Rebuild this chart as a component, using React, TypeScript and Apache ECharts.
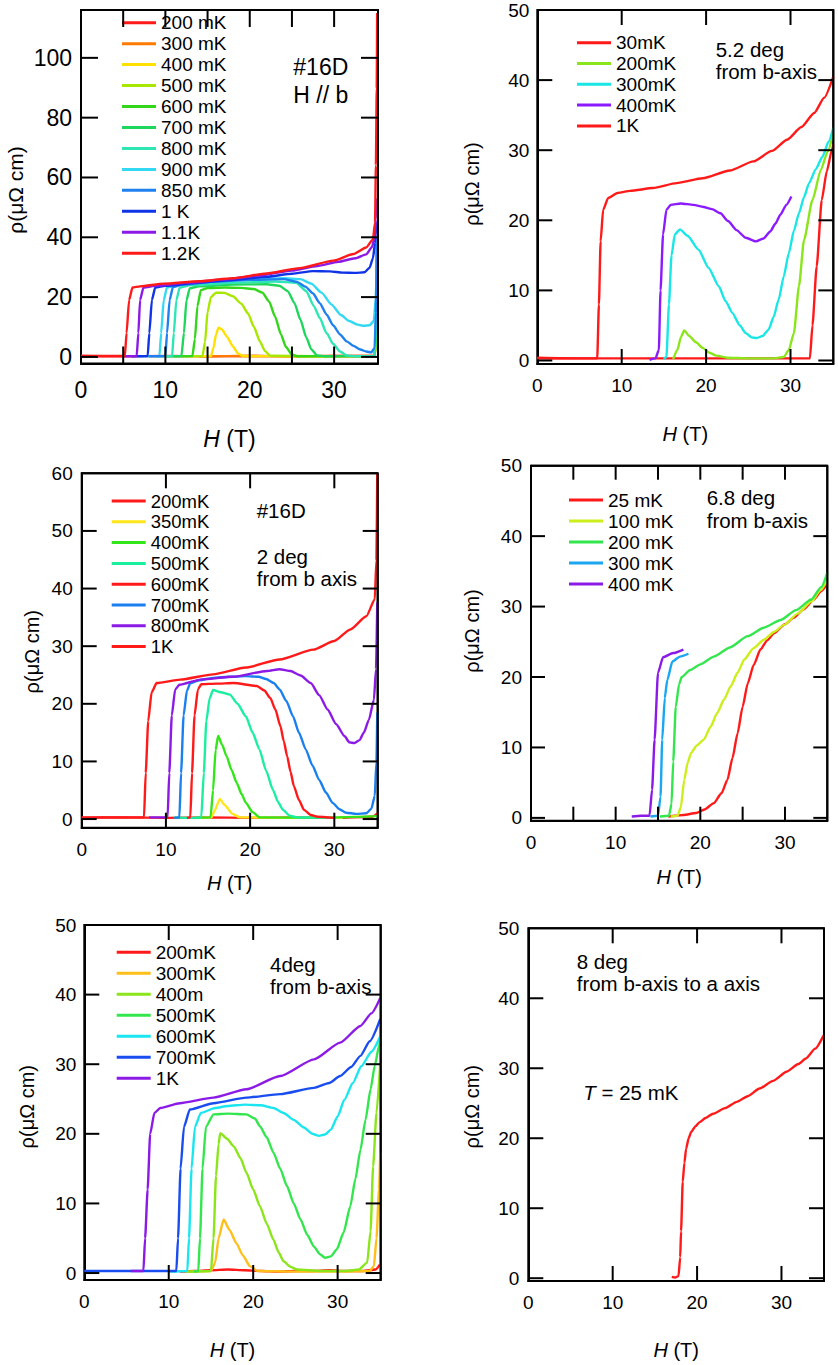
import React, { useEffect, useRef } from "react";
import * as echarts from "echarts";

type Pt = [number, number];

const FONT = '"Liberation Sans", Arial, Helvetica, sans-serif';
const INK = "#000000";

// ---------- Panel 1: #16D, H // b ----------
const p1Names = ["200 mK", "300 mK", "400 mK", "500 mK", "600 mK", "700 mK", "800 mK", "900 mK", "850 mK", "1 K", "1.1K", "1.2K"];
const p1_200mK: Pt[] = [[0, 0.3], [5, 0.2], [10, 0.3], [15, 0.2], [20, 0.3], [25, 0.2], [30, 0.3], [34.7, 0.3], [34.9, 2], [35.0, 8], [35.05, 20]];
const p1_300mK: Pt[] = [[14, 0.2], [20, 0.3], [25, 0.2], [30, 0.3], [34.7, 0.3], [34.95, 3], [35.05, 12]];
const p1_400mK: Pt[] = [[13, 0.2], [15.4, 0.3], [15.7, 3], [16.0, 7.5], [16.3, 9.8], [16.7, 9.2], [17.3, 6.8], [18.0, 3.5], [18.6, 1.2], [19.2, 0.3], [25, 0.2], [30, 0.2], [34.8, 0.3], [35.0, 5]];
const p1_500mK: Pt[] = [[12, 0.2], [14.4, 0.3], [14.7, 5], [15.0, 15], [15.4, 20], [16, 21.5], [17, 21.4], [18, 20.3], [19, 17.8], [19.8, 14.5], [20.5, 10], [21.2, 5.2], [21.8, 2], [22.4, 0.4], [28, 0.2], [34.8, 0.3], [35.0, 6]];
const p1_600mK: Pt[] = [[11, 0.2], [13.2, 0.3], [13.5, 6], [13.8, 17], [14.2, 22.3], [15, 23], [17, 23.2], [19, 23.1], [20.5, 22.7], [21.5, 21.5], [22.3, 18.5], [23, 13.5], [23.7, 7.5], [24.3, 3.3], [25, 0.8], [25.6, 0.2], [34.8, 0.3], [35.0, 8]];
const p1_700mK: Pt[] = [[10, 0.2], [11.9, 0.3], [12.2, 8], [12.5, 19], [12.9, 23], [14, 23.6], [18, 24.2], [22, 24.3], [23.5, 23.8], [24.5, 22], [25.3, 18], [26, 12.5], [26.7, 6.5], [27.3, 2.5], [28, 0.5], [29, 0.2], [34.8, 0.3], [35.0, 10]];
const p1_800mK: Pt[] = [[9, 0.2], [10.8, 0.3], [11.0, 8], [11.3, 19], [11.7, 23.2], [13, 24], [18, 24.8], [23, 25.2], [25.5, 24.8], [26.7, 22], [27.6, 17], [28.3, 13], [29.1, 8], [29.9, 4.3], [30.7, 1.8], [31.5, 0.5], [32.5, 0.2], [34.8, 0.3], [35.0, 15]];
const p1_900mK: Pt[] = [[7, 0.2], [9.3, 0.3], [9.5, 8], [9.8, 19], [10.2, 23.3], [12, 24.3], [16, 25.2], [20, 25.8], [24, 26.3], [26, 26], [27.3, 24.5], [28.5, 21.5], [29.7, 17.5], [30.8, 14], [31.8, 12], [32.8, 10.8], [33.5, 10.4], [34.2, 10.6], [34.7, 12], [34.95, 20], [35.05, 35]];
const p1_850mK: Pt[] = [[8, 0.2], [10.0, 0.3], [10.2, 8], [10.5, 19], [10.9, 23.4], [12, 24.2], [16, 25.2], [20, 25.8], [24, 26], [25.6, 25.1], [26.6, 23.5], [27.5, 21.2], [28.3, 18], [29.1, 14.2], [29.9, 10.5], [30.7, 7.5], [31.5, 5.2], [32.3, 3.7], [33.1, 2.5], [33.8, 1.8], [34.4, 1.5], [34.8, 3], [34.95, 15], [35.05, 40]];
const p1_1K: Pt[] = [[6, 0.2], [7.9, 0.3], [8.1, 8], [8.4, 19], [8.8, 23.2], [10, 23.8], [14, 24.8], [18, 25.7], [22, 26.8], [25, 27.8], [27.5, 28.7], [29.5, 28.6], [31, 28.2], [32.5, 28.1], [33.6, 28.3], [34.2, 29.8], [34.6, 33], [34.85, 38], [35.0, 45]];
const p1_1p1K: Pt[] = [[5, 0.2], [6.6, 0.3], [6.8, 8], [7.0, 19], [7.4, 23.2], [9, 23.9], [13, 24.9], [17, 25.9], [21, 27.2], [25, 28.9], [28, 30.4], [30.5, 31.8], [32.5, 33], [33.8, 34.3], [34.5, 36.8], [34.8, 40], [34.95, 46], [35.05, 53]];
const p1_1p2K: Pt[] = [[0, 0.3], [5.2, 0.3], [5.4, 8], [5.7, 19], [6.1, 23.2], [7, 23.6], [9.8, 24.5], [14, 25.3], [18, 26.3], [22, 27.9], [25.9, 29.7], [29.9, 32.2], [32.3, 34.4], [33.8, 36.6], [34.6, 39.3], [34.85, 45], [34.95, 64], [35.05, 90], [35.1, 115]];
const p1Curves = [p1_200mK, p1_300mK, p1_400mK, p1_500mK, p1_600mK, p1_700mK, p1_800mK, p1_900mK, p1_850mK, p1_1K, p1_1p1K, p1_1p2K];
const p1Colors = ["#ff1a1a", "#ff7a00", "#ffe000", "#a8e800", "#33d61a", "#1fd65c", "#2ee6b3", "#33d9f2", "#1f80f0", "#0f33e6", "#8c1ae6", "#ff1a1a"];
const p1XTicks = [5, 10, 15, 20, 25, 30];
const p1YTicks = [0, 20, 40, 60, 80, 100];
const p1YLabelStep = 20;
const p1Notes = ["#16D", "H // b"];

// ---------- Panel 2: 5.2 deg from b-axis ----------
const p2Names = ["30mK", "200mK", "300mK", "400mK", "1K"];
const p2_30mK: Pt[] = [[0, 0.3], [5, 0.3], [10, 0.3], [15, 0.3], [20, 0.3], [25, 0.3], [30, 0.3], [32.3, 0.3], [32.6, 5], [33.1, 13.4], [33.7, 22.9], [34.3, 27], [34.9, 30], [35.07, 30.8]];
const p2_200mK: Pt[] = [[16.1, 0.2], [16.6, 1.5], [17.0, 3.3], [17.4, 4.3], [18.0, 3.5], [18.8, 2.6], [19.6, 1.8], [20.4, 1.1], [21.2, 0.7], [22.5, 0.4], [25, 0.3], [28, 0.3], [29.2, 0.5], [29.8, 1.5], [30.4, 3.9], [31.0, 10.6], [31.6, 17.2], [32.6, 22.9], [33.6, 27.2], [34.4, 29.8], [35.07, 32.4]];
const p2_300mK: Pt[] = [[15.0, 0.2], [15.3, 0.5], [15.6, 8], [15.9, 15], [16.3, 18], [16.9, 18.7], [17.8, 17.8], [19.1, 15.8], [20.3, 13.2], [21.5, 10.6], [22.3, 8.5], [23.1, 6.8], [24.0, 5], [24.7, 3.9], [25.4, 3.3], [26.0, 3.2], [26.7, 3.5], [27.4, 4.4], [28.0, 6.2], [28.6, 8.7], [29.2, 12], [29.8, 15.3], [30.4, 18.5], [31.0, 21], [31.6, 23.3], [32.2, 25.3], [33.0, 27.3], [33.8, 29.1], [34.5, 31.2], [35.07, 33.2]];
const p2_400mK: Pt[] = [[13.3, 0.1], [14.0, 0.3], [14.4, 1.5], [14.6, 10], [14.9, 18], [15.3, 21.5], [15.8, 22.2], [17, 22.4], [18.5, 22.2], [19.7, 21.9], [20.7, 21.6], [21.7, 21], [22.6, 19.9], [23.6, 18.6], [24.7, 17.5], [25.9, 17], [26.8, 17.4], [27.6, 18.4], [28.2, 19.5], [28.8, 20.8], [29.5, 22.2], [30.1, 23.4]];
const p2_1K: Pt[] = [[0, 0.4], [5, 0.3], [7.1, 0.3], [7.3, 8], [7.5, 17], [7.8, 21.5], [8.4, 23.2], [9.5, 23.9], [11.0, 24.2], [13.7, 24.6], [16.5, 25.3], [19.6, 26.0], [22.8, 27.1], [25.6, 28.4], [27.8, 29.9], [29.6, 31.5], [31.3, 33.3], [32.8, 35.3], [34.0, 37.5], [35.07, 40.5]];
const p2Curves = [p2_30mK, p2_200mK, p2_300mK, p2_400mK, p2_1K];
const p2Colors = ["#ff1a1a", "#8ae61a", "#1ae6e6", "#8c1aff", "#ff1a1a"];
const p2XTicks = [10, 20, 30];
const p2YTicks = [0, 10, 20, 30, 40];
const p2YLabelStep = 10;
const p2Notes = ["5.2 deg", "from b-axis"];

// ---------- Panel 3: #16D, 2 deg from b axis ----------
const p3Names = ["200mK", "350mK", "400mK", "500mK", "600mK", "700mK", "800mK", "1K"];
const p3_200mK: Pt[] = [[0, 0.2], [5, 0.3], [10, 0.2], [15, 0.3], [20, 0.2], [25, 0.3], [30, 0.2], [34.5, 0.4], [35.1, 1]];
const p3_350mK: Pt[] = [[14, 0.2], [15.4, 0.3], [15.8, 1.5], [16.4, 3.5], [17.0, 2.4], [17.9, 0.9], [18.8, 0.3], [25, 0.2], [31, 0.2]];
const p3_400mK: Pt[] = [[13.5, 0.2], [15.3, 0.3], [15.6, 5], [15.9, 12], [16.2, 14.4], [16.7, 12.8], [17.2, 10.9], [17.8, 8.5], [18.4, 6.3], [19.0, 4.3], [19.5, 2.8], [20.3, 1.2], [21.1, 0.3], [28, 0.2], [35.1, 0.5]];
const p3_500mK: Pt[] = [[11, 0.3], [13, 0.2], [14.2, 0.3], [14.5, 8], [14.8, 17], [15.2, 21], [15.6, 22.4], [16.5, 22], [17.6, 21.6], [18.5, 20], [19.5, 17.8], [20.3, 15], [21.1, 12.1], [21.9, 8.4], [22.7, 5.1], [23.3, 3], [23.9, 1.6], [24.7, 0.6], [25.5, 0.3], [30, 0.2]];
const p3_600mK: Pt[] = [[12.5, 0.2], [12.9, 0.3], [13.1, 8], [13.4, 18], [13.8, 22.5], [14.2, 23.4], [16, 23.5], [18, 23.6], [20.8, 23.1], [21.7, 22.3], [22.4, 21], [23.0, 19], [23.6, 16.1], [24.0, 13.5], [24.4, 10.9], [24.8, 8.2], [25.2, 5.7], [25.8, 3.3], [26.4, 1.6], [27.2, 0.7], [28, 0.4], [30, 0.2]];
const p3_700mK: Pt[] = [[11, 0.2], [11.6, 0.3], [11.8, 8], [12.1, 18], [12.5, 22.3], [12.9, 23.6], [14, 24.1], [15.6, 24.5], [17.5, 24.7], [19.5, 24.8], [21.0, 24.7], [21.9, 24.3], [22.8, 23.6], [23.5, 22.5], [24.3, 20.5], [25.1, 17.8], [25.8, 15], [26.6, 12.1], [27.4, 9.3], [28.2, 6.8], [29.0, 4.6], [29.8, 2.8], [30.6, 1.7], [31.4, 1.1], [32.6, 0.9], [33.8, 1.0], [34.4, 1.8], [34.8, 4], [35.0, 10], [35.1, 18.5]];
const p3_800mK: Pt[] = [[8.0, 0.3], [10.2, 0.3], [10.4, 8], [10.7, 18], [11.1, 22.5], [11.6, 23.3], [14.1, 24.2], [18.0, 24.7], [22.0, 25.7], [23.5, 26], [24.8, 25.7], [26.0, 24.9], [27.2, 23.6], [28.2, 21.5], [29.2, 19], [30.2, 16.5], [31.2, 14.4], [31.8, 13.3], [32.4, 13.2], [33.0, 13.7], [33.5, 15], [34.1, 17.2], [34.7, 20.7], [34.95, 26], [35.1, 37.6]];
const p3_1K: Pt[] = [[0, 0.3], [7.4, 0.3], [7.6, 8], [7.9, 17], [8.3, 22], [8.9, 23.6], [11.7, 24.2], [15.6, 25.1], [19.5, 26.3], [23.5, 27.7], [27.5, 29.4], [30.0, 30.9], [31.9, 32.9], [33.8, 35.2], [34.8, 38.1], [35.0, 45], [35.1, 60]];
const p3Curves = [p3_200mK, p3_350mK, p3_400mK, p3_500mK, p3_600mK, p3_700mK, p3_800mK, p3_1K];
const p3Colors = ["#ff1a1a", "#ffe61a", "#33e61a", "#1aefa0", "#ff1a1a", "#1a80f0", "#8c1ae6", "#ff1a1a"];
const p3XTicks = [10, 20, 30];
const p3YTicks = [0, 10, 20, 30, 40, 50];
const p3YLabelStep = 10;
const p3Notes = ["#16D", "2 deg", "from b axis"];

// ---------- Panel 4: 6.8 deg from b-axis ----------
const p4Names = ["25 mK", "100 mK", "200 mK", "300 mK", "400 mK"];
const p4_25mK: Pt[] = [[16.2, 0.2], [17, 0.3], [18, 0.4], [19.5, 0.7], [20.5, 1.2], [21.6, 2.1], [22.5, 3.5], [23.2, 5.4], [23.8, 8.5], [24.4, 12], [25.0, 15.8], [25.6, 19.1], [26.3, 21.7], [27.1, 23.9], [27.9, 25.2], [28.7, 26.2], [30, 27.5], [31.0, 28.4], [32.2, 29.6], [33.4, 31], [34.3, 32.2], [35, 33.3]];
const p4_100mK: Pt[] = [[16.5, 0.2], [17.3, 0.3], [17.7, 1.5], [18.1, 5.4], [18.5, 7.8], [18.9, 9.2], [19.6, 10.3], [20.4, 11.1], [21.2, 12.9], [22.0, 14.9], [22.8, 16.8], [23.6, 18.7], [24.4, 20.6], [25.2, 22.5], [26.3, 24.1], [27.5, 25.3], [28.7, 26.4], [29.9, 27.4], [31.5, 29], [33.1, 30.7], [34.2, 32.3], [35, 33.8]];
const p4_200mK: Pt[] = [[15.2, 0.2], [16.3, 0.3], [16.6, 2], [16.8, 8], [17.1, 15.8], [17.5, 19], [17.8, 20], [18.8, 21], [20, 21.8], [21.6, 22.9], [23.5, 24.2], [25.6, 25.8], [27.5, 27], [29.5, 28.1], [31.3, 29.5], [33.1, 31], [34.3, 32.8], [35, 34.8]];
const p4_300mK: Pt[] = [[14.1, 0.2], [15.0, 0.3], [15.3, 3], [15.5, 11.1], [15.8, 17], [16.1, 19.6], [16.7, 22.2], [17.6, 22.9], [18.6, 23.3]];
const p4_400mK: Pt[] = [[11.9, 0.2], [13, 0.3], [14.0, 0.3], [14.3, 4], [14.6, 11.1], [15.0, 20.6], [15.6, 22.8], [16.8, 23.4], [18.0, 23.9]];
const p4Curves = [p4_25mK, p4_100mK, p4_200mK, p4_300mK, p4_400mK];
const p4Colors = ["#ff1a1a", "#ccee1a", "#33e64d", "#1aa6f0", "#8c1ae6"];
const p4XTicks = [5, 10, 15, 20, 25, 30];
const p4YTicks = [0, 10, 20, 30, 40];
const p4YLabelStep = 10;
const p4Notes = ["6.8 deg", "from b-axis"];

// ---------- Panel 5: 4deg from b-axis ----------
const p5Names = ["200mK", "300mK", "400m", "500mK", "600mK", "700mK", "1K"];
const p5_200mK: Pt[] = [[11.3, 0.2], [13, 0.3], [15, 0.4], [17, 0.5], [19, 0.4], [21, 0.3], [23, 0.2], [25, 0.3], [27, 0.3], [29, 0.4], [31, 0.3], [33, 0.3], [34.5, 0.5], [35.0, 1.2]];
const p5_300mK: Pt[] = [[12, 0.2], [15.0, 0.3], [15.5, 1.5], [15.9, 5], [16.5, 7.7], [17.2, 6.2], [18.0, 4.3], [18.8, 2.5], [19.6, 1.0], [20.5, 0.3], [25, 0.2], [30, 0.2], [33.8, 0.3], [34.3, 1], [34.6, 5], [34.9, 12], [35.05, 17.3]];
const p5_400m: Pt[] = [[12, 0.2], [15.0, 0.3], [15.3, 5], [15.6, 14], [15.9, 18.5], [16.1, 20.1], [16.9, 19.3], [17.7, 18.2], [18.5, 16.5], [19.2, 14.4], [20.0, 12], [20.8, 9.6], [21.6, 7.1], [22.4, 4.8], [23.0, 3], [23.6, 1.7], [24.4, 0.9], [25.2, 0.5], [28, 0.3], [31, 0.3], [32.5, 0.5], [33.5, 1.5], [33.9, 6], [34.2, 15.3], [34.6, 23], [35.05, 30.2]];
const p5_500mK: Pt[] = [[13, 0.2], [13.5, 0.3], [13.7, 5], [14.0, 15], [14.4, 21], [15.3, 22.8], [17, 22.9], [19.2, 22.8], [20.2, 22.2], [20.8, 21.1], [21.6, 19.5], [22.4, 17.3], [23.2, 15], [24.0, 12.5], [24.8, 10], [25.6, 7.7], [26.4, 5.5], [27.2, 3.8], [27.9, 2.7], [28.5, 2.2], [29.2, 2.4], [29.9, 3.4], [30.7, 5.8], [31.5, 9.6], [32.1, 13.5], [32.7, 17.7], [33.3, 22], [33.9, 26.4], [34.4, 29.8], [34.9, 32.6], [35.05, 33.5]];
const p5_600mK: Pt[] = [[10, 0.2], [12.2, 0.3], [12.4, 5], [12.7, 15], [13.1, 21], [13.8, 23], [15.5, 23.7], [17.0, 24], [19, 24.2], [20.9, 24.1], [22.4, 23.7], [23.6, 23], [24.8, 22], [26.0, 20.9], [27.0, 20], [27.8, 19.7], [28.5, 19.9], [29.2, 20.6], [30.0, 22.5], [30.8, 24.9], [31.8, 27.3], [32.8, 29.7], [34, 31.8], [35.05, 34]];
const p5_700mK: Pt[] = [[0, 0.3], [3, 0.3], [6, 0.3], [9, 0.3], [10.9, 0.3], [11.1, 5], [11.4, 15], [11.8, 21], [12.5, 23.5], [15.3, 24.4], [19.2, 25.2], [23.2, 25.7], [27.2, 26.6], [29, 27.3], [30.3, 28.3], [31.6, 29.6], [32.7, 31.2], [33.8, 33.3], [35.05, 36.5]];
const p5_1K: Pt[] = [[5.5, 0.3], [7.0, 0.3], [7.2, 5], [7.5, 12], [7.8, 20], [8.3, 23], [9.0, 23.7], [11.3, 24.4], [15.3, 25.2], [19.2, 26.4], [23.2, 28.3], [27.2, 30.7], [30.3, 33.1], [32.7, 35.5], [34, 37.3], [35.05, 39.5]];
const p5Curves = [p5_200mK, p5_300mK, p5_400m, p5_500mK, p5_600mK, p5_700mK, p5_1K];
const p5Colors = ["#ff1a1a", "#ffbf1a", "#8ae61a", "#33e64d", "#1ae6f0", "#1a4df0", "#8c1ae6"];
const p5XTicks = [10, 20, 30];
const p5YTicks = [0, 10, 20, 30, 40];
const p5YLabelStep = 10;
const p5Notes = ["4deg", "from b-axis"];

// ---------- Panel 6: 8 deg from b-axis to a axis ----------
const p6Names = ["25 mK"];
const p6_25mK: Pt[] = [[17.0, 0.2], [17.4, 0.1], [17.8, 0.3], [18.0, 3], [18.1, 6.7], [18.3, 13.8], [18.5, 16.5], [18.7, 18.5], [19.0, 20], [19.3, 20.9], [19.8, 21.7], [20.3, 22.3], [21.0, 22.9], [21.9, 23.5], [23.3, 24.3], [24.7, 25.2], [26, 26], [27.4, 27.1], [29, 28.2], [30.6, 29.5], [32, 30.6], [32.9, 31.4], [34, 32.8], [35, 34.7]];
const p6Curves = [p6_25mK];
const p6Colors = ["#ff1a1a"];
const p6XTicks = [10, 20, 30];
const p6YTicks = [0, 10, 20, 30, 40];
const p6YLabelStep = 10;
const p6Notes = ["8 deg", "from b-axis to a axis", "{i|T} = 25 mK"];

// field axis is labelled every 10 T
const X_LABEL_STEP = 10;

// ---------- layout ----------
interface Note { text: string; x: number; y: number }
interface PanelSpec {
  box: [number, number];
  plot: [number, number, number, number];
  xMax: number; yMin: number; yMax: number;
  xTicks: number[]; yTicks: number[]; yLabelStep: number;
  names: string[]; colors: string[]; curves: Pt[][];
  tickFont: number; nameFont: number; legendFont: number; noteFont: number; yNameFont: number;
  tickLen: number; marginX: number; marginY: number; xNameGap: number;
  legend: [number, number] | null; legendRow: number;
  yName: [number, number];
  notes: Note[];
}

const BOX_W = 419;
const BOX_H = 455;

const panels: PanelSpec[] = [
  {
    box: [0, 0], plot: [81, 10, 378, 370], xMax: 35.2, yMin: -2.2, yMax: 116,
    xTicks: p1XTicks, yTicks: p1YTicks, yLabelStep: p1YLabelStep,
    names: p1Names, colors: p1Colors, curves: p1Curves,
    tickFont: 23, nameFont: 23, legendFont: 19, noteFont: 23, yNameFont: 21,
    tickLen: 17, marginX: 15, marginY: 9, xNameGap: 63.5,
    legend: [122, 12.2], legendRow: 20.96, yName: [15, 190],
    notes: [{ text: p1Notes[0], x: 293.3, y: 67 }, { text: p1Notes[1], x: 293.3, y: 95 }],
  },
  {
    box: [419, 0], plot: [537.3, 10, 833.3, 364], xMax: 35.07, yMin: -0.5, yMax: 50,
    xTicks: p2XTicks, yTicks: p2YTicks, yLabelStep: p2YLabelStep,
    names: p2Names, colors: p2Colors, curves: p2Curves,
    tickFont: 19, nameFont: 20, legendFont: 19, noteFont: 20.5, yNameFont: 20,
    tickLen: 15, marginX: 11.5, marginY: 8, xNameGap: 60,
    legend: [577, 32.3], legendRow: 20.8, yName: [471.7, 184],
    notes: [{ text: p2Notes[0], x: 715.7, y: 49 }, { text: p2Notes[1], x: 715.7, y: 71 }],
  },
  {
    box: [0, 455], plot: [81.7, 473.3, 377.7, 827.7], xMax: 35.15, yMin: -1.5, yMax: 60,
    xTicks: p3XTicks, yTicks: p3YTicks, yLabelStep: p3YLabelStep,
    names: p3Names, colors: p3Colors, curves: p3Curves,
    tickFont: 19, nameFont: 20, legendFont: 18.5, noteFont: 20.5, yNameFont: 20,
    tickLen: 15, marginX: 12, marginY: 9, xNameGap: 45.6,
    legend: [111.7, 490.6], legendRow: 20.8, yName: [31.7, 651.7],
    notes: [{ text: p3Notes[0], x: 256.7, y: 510 }, { text: p3Notes[1], x: 256.7, y: 556.7 }, { text: p3Notes[2], x: 256.7, y: 578.3 }],
  },
  {
    box: [419, 455], plot: [531, 465.7, 827.3, 820.7], xMax: 35, yMin: -0.4, yMax: 50,
    xTicks: p4XTicks, yTicks: p4YTicks, yLabelStep: p4YLabelStep,
    names: p4Names, colors: p4Colors, curves: p4Curves,
    tickFont: 19, nameFont: 20, legendFont: 19, noteFont: 20.5, yNameFont: 20,
    tickLen: 14, marginX: 12.5, marginY: 9, xNameGap: 46,
    legend: [569, 489.5], legendRow: 21, yName: [471.7, 631],
    notes: [{ text: p4Notes[0], x: 706.7, y: 497.7 }, { text: p4Notes[1], x: 706.7, y: 520 }],
  },
  {
    box: [0, 910], plot: [84.3, 925, 380.7, 1280], xMax: 35.1, yMin: -1, yMax: 50,
    xTicks: p5XTicks, yTicks: p5YTicks, yLabelStep: p5YLabelStep,
    names: p5Names, colors: p5Colors, curves: p5Curves,
    tickFont: 19, nameFont: 20, legendFont: 19, noteFont: 20.5, yNameFont: 20,
    tickLen: 15, marginX: 12, marginY: 8, xNameGap: 60,
    legend: [116.7, 941.8], legendRow: 21, yName: [26.7, 1106.7],
    notes: [{ text: p5Notes[0], x: 270, y: 964.3 }, { text: p5Notes[1], x: 270, y: 986.7 }],
  },
  {
    box: [419, 910], plot: [528.3, 928.3, 824, 1282.7], xMax: 35.04, yMin: -0.4, yMax: 50,
    xTicks: p6XTicks, yTicks: p6YTicks, yLabelStep: p6YLabelStep,
    names: p6Names, colors: p6Colors, curves: p6Curves,
    tickFont: 19, nameFont: 20, legendFont: 19, noteFont: 20.5, yNameFont: 20,
    tickLen: 15, marginX: 12, marginY: 9, xNameGap: 59,
    legend: null, legendRow: 21, yName: [471.7, 1106.7],
    notes: [{ text: p6Notes[0], x: 576.7, y: 961.7 }, { text: p6Notes[1], x: 576.7, y: 983.3 }, { text: p6Notes[2], x: 583.3, y: 1092.7 }],
  },
];

const onStep = (v: number, step: number) => {
  const r = v / step;
  return v >= 0 && Math.abs(r - Math.round(r)) < 1e-6;
};

function textGraphics(p: PanelSpec) {
  const [bx, by] = p.box;
  return [
    {
      type: "text",
      x: p.yName[0] - bx,
      y: p.yName[1] - by,
      rotation: Math.PI / 2,
      silent: true,
      style: { text: "ρ(μΩ cm)", fontSize: p.yNameFont, fontFamily: FONT, fill: "#000", align: "center", verticalAlign: "middle" },
    },
    ...p.notes.map((n) => ({
      type: "text",
      x: n.x - bx,
      y: n.y - by,
      silent: true,
      style: {
        text: n.text,
        fontSize: p.noteFont,
        fontFamily: FONT,
        fill: "#000",
        align: "left",
        verticalAlign: "middle",
        rich: { i: { fontStyle: "italic", fontSize: p.noteFont, fontFamily: FONT, fill: "#000" } },
      },
    })),
  ];
}

// Inward tick marks on all four sides as small filled bars placed at the
// tick values (scatter symbols sized in pixels, shifted into the plot).
function tickSeries(p: PanelSpec) {
  const L = p.tickLen;
  const items: any[] = [];
  p.xTicks.forEach((v) => {
    items.push({ value: [v, p.yMin], symbolSize: [2, L], symbolOffset: [0, -L / 2] });
    items.push({ value: [v, p.yMax], symbolSize: [2, L], symbolOffset: [0, L / 2] });
  });
  p.yTicks.forEach((v) => {
    items.push({ value: [0, v], symbolSize: [L, 2], symbolOffset: [L / 2, 0] });
    items.push({ value: [p.xMax, v], symbolSize: [L, 2], symbolOffset: [-L / 2, 0] });
  });
  return {
    type: "scatter",
    name: "ticks",
    data: items,
    symbol: "rect",
    silent: true,
    clip: false,
    z: 6,
    itemStyle: { color: INK, opacity: 1 },
  };
}

// Top and right edges of the box frame.
function edgeSeries(p: PanelSpec) {
  return {
    type: "line",
    name: "frame",
    data: [[0, p.yMax], [p.xMax, p.yMax], [p.xMax, p.yMin]],
    symbol: "none",
    showSymbol: false,
    silent: true,
    clip: false,
    z: 6,
    lineStyle: { color: INK, width: 2 },
    itemStyle: { color: INK },
  };
}

function buildOption(p: PanelSpec) {
  const [bx, by] = p.box;
  const [x0, y0, x1, y1] = p.plot;
  const axisLine = { show: true, onZero: false, lineStyle: { color: INK, width: 2 } };
  const label = { color: "#000", fontSize: p.tickFont, fontFamily: FONT, showMinLabel: true, showMaxLabel: true, hideOverlap: false };
  const ySplit = Math.round((p.yMax - p.yMin) / p.yLabelStep);

  const curveSeries: any[] = p.curves.map((c, i) => ({
    type: "line",
    name: p.names[i],
    data: c,
    symbol: "none",
    showSymbol: false,
    smooth: 0.2,
    smoothMonotone: "x",
    silent: true,
    z: 3,
    lineStyle: { color: p.colors[i], width: 2.4 },
    itemStyle: { color: p.colors[i] },
  }));

  const option: any = {
    animation: false,
    grid: {
      left: x0 - bx, top: y0 - by, width: x1 - x0, height: y1 - y0,
      show: true, borderColor: INK, borderWidth: 2, backgroundColor: "rgba(0,0,0,0)",
    },
    xAxis: {
      type: "value", position: "bottom", min: 0, max: p.xMax, interval: X_LABEL_STEP,
      splitLine: { show: false }, axisLine, axisTick: { show: false },
      axisLabel: { ...label, margin: p.marginX, formatter: (v: number) => (onStep(v, X_LABEL_STEP) ? String(v) : "") },
      name: "{i|H} (T)", nameLocation: "middle", nameGap: p.xNameGap,
      nameTextStyle: {
        color: "#000", fontSize: p.nameFont, fontFamily: FONT,
        rich: { i: { fontStyle: "italic", fontSize: p.nameFont, fontFamily: FONT, color: "#000" } },
      },
    },
    yAxis: {
      type: "value", position: "left", min: p.yMin, max: p.yMax, splitNumber: ySplit,
      splitLine: { show: false }, axisLine, axisTick: { show: false },
      axisLabel: { ...label, margin: p.marginY, formatter: (v: number) => (onStep(v, p.yLabelStep) ? String(v) : "") },
    },
    graphic: textGraphics(p),
    series: [edgeSeries(p), tickSeries(p), ...curveSeries],
  };

  if (p.legend) {
    option.legend = {
      orient: "vertical",
      left: p.legend[0] - bx,
      top: p.legend[1] - by,
      padding: 0,
      itemGap: 0,
      itemWidth: 34,
      itemHeight: 3,
      icon: "rect",
      selectedMode: false,
      textStyle: { fontSize: p.legendFont, fontFamily: FONT, color: "#000", lineHeight: p.legendRow },
      data: p.names,
    };
  }
  return option;
}

function Panel({ spec }: { spec: PanelSpec }) {
  const ref = useRef<HTMLDivElement>(null);
  useEffect(() => {
    if (!ref.current) return;
    const chart = echarts.init(ref.current, undefined, { renderer: "svg" });
    chart.setOption(buildOption(spec));
    return () => chart.dispose();
  }, [spec]);
  return (
    <div
      ref={ref}
      style={{ position: "absolute", left: spec.box[0], top: spec.box[1], width: BOX_W, height: BOX_H }}
    />
  );
}

export default function App() {
  return (
    <div style={{ position: "absolute", left: 0, top: 0, width: 838, height: 1365, background: "#fff" }}>
      {panels.map((p, i) => (
        <Panel key={i} spec={p} />
      ))}
    </div>
  );
}
